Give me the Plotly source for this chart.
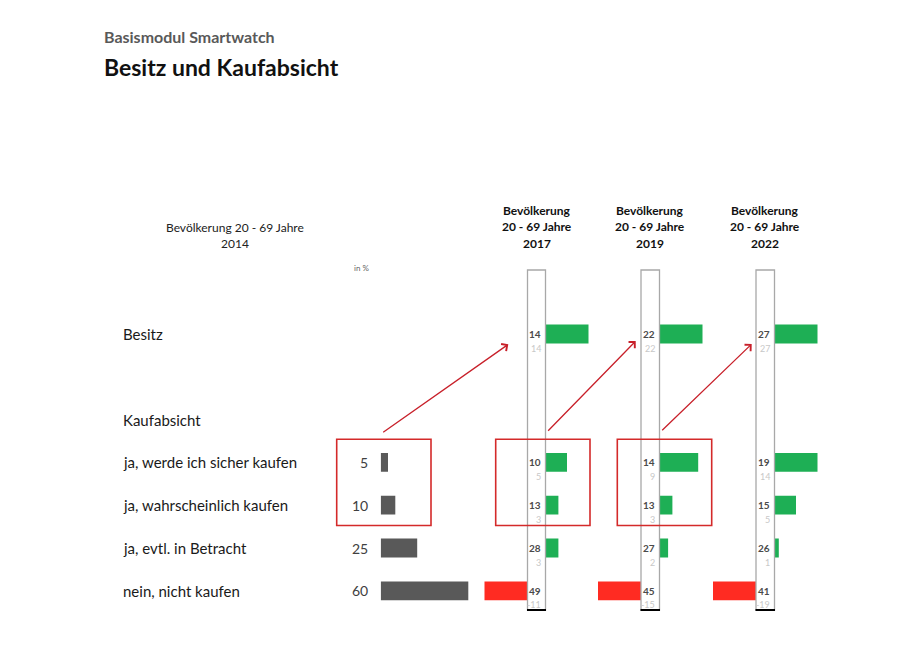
import plotly.graph_objects as go

W, H = 923, 661

# ---------------- data ----------------
row_labels = ["Besitz", "ja, werde ich sicher kaufen", "ja, wahrscheinlich kaufen",
              "ja, evtl. in Betracht", "nein, nicht kaufen"]
section_label = "Kaufabsicht"
values_2014 = [None, 5, 10, 25, 60]
values_2017 = [14, 10, 13, 28, 49]
values_2019 = [22, 14, 13, 27, 45]
values_2022 = [27, 19, 15, 26, 41]
years = ["2017", "2019", "2022"]
subtitle = "Basismodul Smartwatch"
title = "Besitz und Kaufabsicht"
header_2014 = ["Bevölkerung 20 - 69 Jahre", "2014"]
header_cols = ["Bevölkerung", "20 - 69 Jahre"]
unit_label = "in %"

# ---------------- layout helpers ----------------
row_pos = [0, 3, 4, 5, 6]
section_pos = 2
Y0, DY = 334.0, 42.8
TOP, BOT = 270.0, 612.0
yr = [(BOT - Y0) / DY, (TOP - Y0) / DY]

def px(x):
    return x / W

def py(y):
    return 1 - y / H

FONT = "Lato"
GREEN = "#1eaf55"
RED = "#ff2b22"
GRAY_BAR = "#595959"
BOX_RED = "#d42a2a"

fig = go.Figure()
layout = dict(
    width=W, height=H, margin=dict(l=0, r=0, t=0, b=0),
    paper_bgcolor="white", plot_bgcolor="rgba(0,0,0,0)",
    showlegend=False, barmode="overlay",
    font=dict(family=FONT, color="#222"),
    yaxis=dict(range=yr, domain=[py(BOT), py(TOP)], visible=False, fixedrange=True),
)

# 2014 axis
layout["xaxis"] = dict(domain=[px(380.7), px(480.7)], range=[0, 100 / 1.46],
                       visible=False, anchor="y")
ys = [p for p, v in zip(row_pos, values_2014) if v is not None]
xs = [v for v in values_2014 if v is not None]
fig.add_trace(go.Bar(x=xs, y=ys, orientation="h", width=0.44,
                     marker=dict(color=GRAY_BAR, line=dict(width=0)),
                     xaxis="x", yaxis="y", hoverinfo="skip"))

annotations = []
shapes = []

for p, v in zip(row_pos, values_2014):
    if v is None:
        continue
    annotations.append(dict(xref="paper", yref="y", x=px(370), y=p, text=str(v),
                            showarrow=False, xanchor="right", yanchor="middle",
                            font=dict(size=14, color="#404040", family=FONT)))

# columns
cols = [(years[0], values_2017, 527.5, 545.5),
        (years[1], values_2019, 641.0, 659.5),
        (years[2], values_2022, 756.0, 774.5)]
BARLEN = 43.0
ax_i = 2
for year, vals, bl, br in cols:
    base = [0 if b is None else b for b in values_2014]
    diffs = [v - b for v, b in zip(vals, base)]
    # positive side
    xp = f"xaxis{ax_i}"
    layout[xp] = dict(domain=[px(br), px(br + BARLEN)], range=[0, 10], visible=False, anchor="y")
    fig.add_trace(go.Bar(x=diffs, y=row_pos, orientation="h", width=0.44,
                         marker=dict(color=GREEN, line=dict(width=0)),
                         xaxis=f"x{ax_i}", yaxis="y", hoverinfo="skip"))
    ax_i += 1
    xn = f"xaxis{ax_i}"
    layout[xn] = dict(domain=[px(bl - BARLEN), px(bl)], range=[-10, 0], visible=False, anchor="y")
    fig.add_trace(go.Bar(x=diffs, y=row_pos, orientation="h", width=0.44,
                         marker=dict(color=RED, line=dict(width=0)),
                         xaxis=f"x{ax_i}", yaxis="y", hoverinfo="skip"))
    ax_i += 1

    # box
    shapes.append(dict(type="rect", xref="paper", yref="paper",
                       x0=px(bl), x1=px(br), y0=py(610), y1=py(270),
                       line=dict(color="#a8a8a8", width=1.3), fillcolor="rgba(0,0,0,0)"))
    shapes.append(dict(type="line", xref="paper", yref="paper",
                       x0=px(bl - 0.5), x1=px(br + 0.5), y0=py(610), y1=py(610),
                       line=dict(color="black", width=2)))
    # numbers
    for p, v, d in zip(row_pos, vals, diffs):
        annotations.append(dict(xref="paper", yref="y", x=px(br - 2.5), y=p, text=str(v),
                                showarrow=False, xanchor="right", yanchor="middle",
                                font=dict(size=10, color="#4a4a4a", family=FONT, weight="bold")))
        annotations.append(dict(xref="paper", yref="y", x=px(br - 2.5), y=p, yshift=-14,
                                text=str(d), showarrow=False, xanchor="right", yanchor="middle",
                                font=dict(size=9, color="#c8c8c8", family=FONT)))
    # header
    cx = (bl + br) / 2
    for txt, yy in zip(header_cols + [year], [210, 226.5, 243]):
        annotations.append(dict(xref="paper", yref="paper", x=px(cx), y=py(yy), text=txt,
                                showarrow=False, xanchor="center", yanchor="middle",
                                font=dict(size=12, color="#111", family=FONT, weight="bold")))

# row labels
for p, lab in zip(row_pos, row_labels):
    annotations.append(dict(xref="paper", yref="y", x=px(120.5), y=p, text=lab,
                            showarrow=False, xanchor="left", yanchor="middle",
                            font=dict(size=15, color="#1a1a1a", family=FONT)))
annotations.append(dict(xref="paper", yref="y", x=px(120.5), y=section_pos, text=section_label,
                        showarrow=False, xanchor="left", yanchor="middle",
                        font=dict(size=15, color="#1a1a1a", family=FONT)))

# titles
annotations.append(dict(xref="paper", yref="paper", x=px(101.5), y=py(37), text=subtitle,
                        showarrow=False, xanchor="left", yanchor="middle",
                        font=dict(size=16, color="#595959", family=FONT, weight="bold")))
annotations.append(dict(xref="paper", yref="paper", x=px(101.5), y=py(67), text=title,
                        showarrow=False, xanchor="left", yanchor="middle",
                        font=dict(size=23, color="#111", family=FONT, weight="bold")))
for txt, yy in zip(header_2014, [227, 243]):
    annotations.append(dict(xref="paper", yref="paper", x=px(235), y=py(yy), text=txt,
                            showarrow=False, xanchor="center", yanchor="middle",
                            font=dict(size=12, color="#222", family=FONT)))
annotations.append(dict(xref="paper", yref="paper", x=px(361), y=py(268), text=unit_label,
                        showarrow=False, xanchor="center", yanchor="middle",
                        font=dict(size=8, color="#666", family=FONT)))

# red highlight boxes
for x0, x1 in [(336.7, 431.0), (495.7, 590.0), (617.3, 711.7)]:
    shapes.append(dict(type="rect", xref="paper", yref="paper",
                       x0=px(x0), x1=px(x1), y0=py(525.5), y1=py(439.3),
                       line=dict(color=BOX_RED, width=1.6), fillcolor="rgba(0,0,0,0)"))

# arrows
for (sx, sy), (tx, ty) in [((381.7, 433.3), (508.3, 344.3)),
                           ((546.7, 432.3), (635.7, 341.0)),
                           ((660.7, 431.7), (751.7, 344.0))]:
    annotations.append(dict(xref="paper", yref="paper", x=px(tx), y=py(ty), text="",
                            showarrow=True, axref="pixel", ayref="pixel",
                            ax=sx - tx, ay=sy - ty, arrowhead=4, arrowsize=1.3,
                            arrowwidth=1.3, arrowcolor="#c8202a", standoff=0, startstandoff=0))

layout["annotations"] = annotations
layout["shapes"] = shapes
fig.update_layout(**layout)
fig.write_html("out.html")
